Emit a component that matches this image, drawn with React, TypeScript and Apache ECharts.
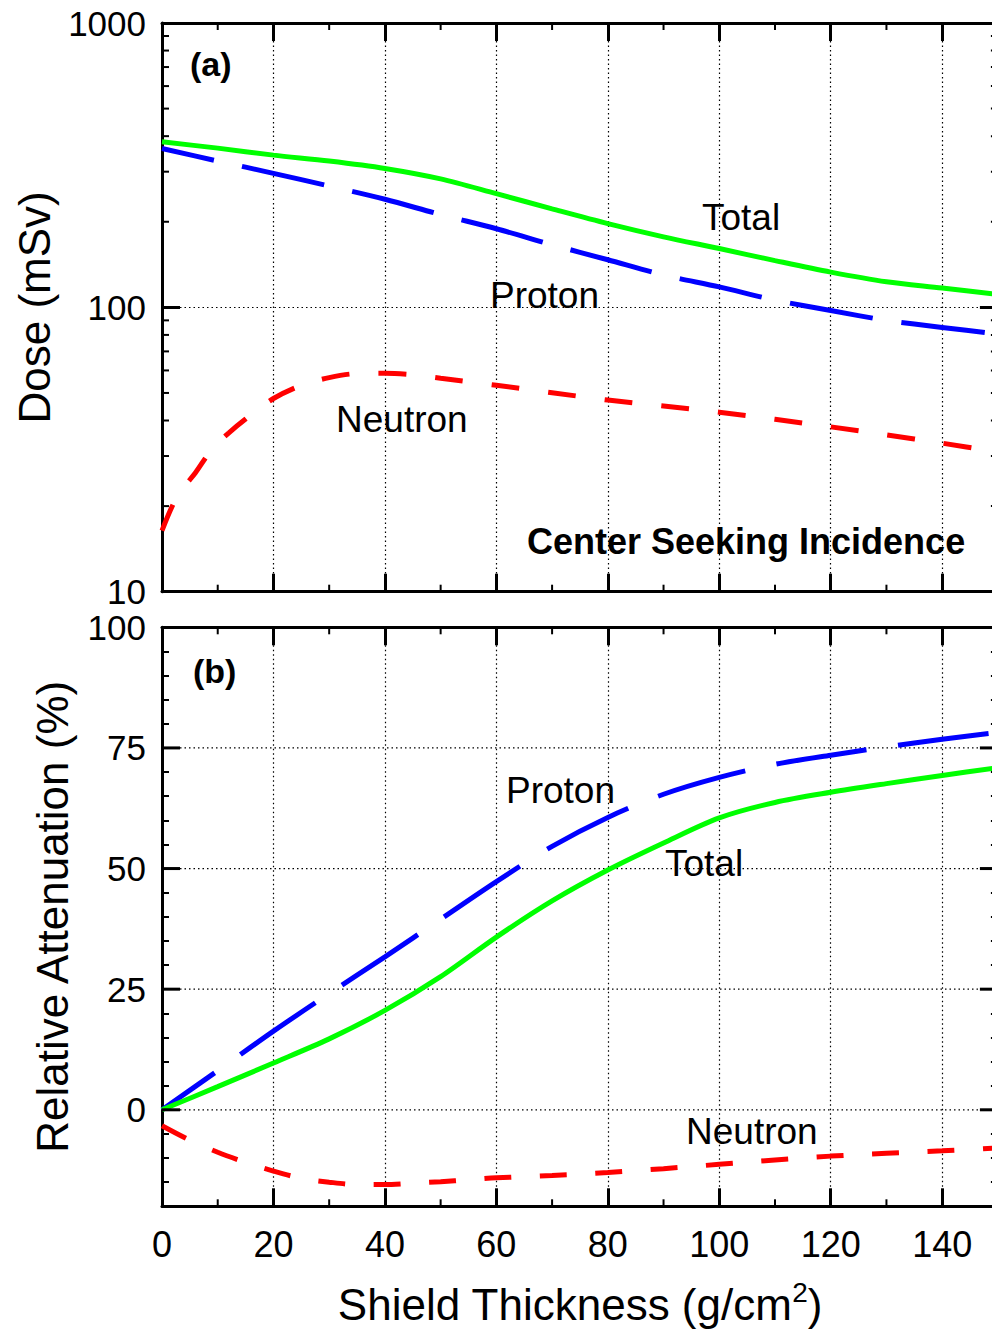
import React, { useEffect, useRef } from 'react';
import * as echarts from 'echarts';

// ---------- data ----------
// Panel (a): dose (mSv) vs shield thickness (g/cm2)
const doseX = [0, 10, 20, 30, 40, 50, 60, 70, 80, 90, 100, 110, 120, 130, 140, 150];
const doseTotal = [382, 363, 343, 327, 308, 283, 251, 222, 197, 177, 161, 146, 133, 123, 117, 111];
const doseProton = [362, 327, 296, 267, 240, 212, 189, 166, 147, 130, 118, 106, 97.5, 90, 85, 80.5];
const doseNeutronX = [0, 2, 4, 6, 9, 12, 15, 20, 25, 30, 35, 40, 45, 50, 60, 70, 80, 90, 100, 110, 120, 130, 140, 150];
const doseNeutron = [16.4, 20.3, 23.4, 26.2, 31.8, 36.2, 40.5, 47.8, 53.2, 56.6, 58.5, 58.6, 57.9, 56.3, 53.2, 50.1, 47.2, 45.0, 42.8, 40.4, 38.0, 35.6, 33.3, 31.0];

// Panel (b): relative attenuation (%) vs shield thickness
const attenX = [0, 10, 20, 30, 40, 50, 60, 70, 80, 90, 100, 110, 120, 130, 140, 150];
const attenTotal = [0, 4.8, 9.7, 14.7, 20.6, 27.6, 35.8, 43.3, 49.7, 55.3, 60.5, 63.7, 65.8, 67.6, 69.3, 70.9];
const attenProton = [0, 8.1, 16.3, 24.1, 31.7, 39.5, 47.3, 54.6, 60.6, 65.4, 68.9, 71.6, 73.5, 75.2, 76.8, 78.2];
const attenNeutronX = [0, 5, 10, 15, 20, 25, 30, 35, 40, 45, 50, 55, 60, 70, 80, 90, 100, 110, 120, 130, 140, 150];
const attenNeutron = [-3.3, -6.3, -8.8, -10.9, -12.7, -14.2, -15.0, -15.5, -15.5, -15.2, -14.9, -14.5, -14.1, -13.6, -13.0, -12.2, -11.3, -10.4, -9.6, -9.0, -8.5, -7.9];

// tick values
const xMinorTicks = [10, 30, 50, 70, 90, 110, 130];
const logMinorTicks = [20, 30, 40, 50, 60, 70, 80, 90, 200, 300, 400, 500, 600, 700, 800, 900];
const attenMajorTicks = [0, 25, 50, 75];

const pairs = (xs: number[], ys: number[]) => xs.map((x, i) => [x, ys[i]]);

const FONT = "'Liberation Sans', Arial, Helvetica, sans-serif";
const BLACK = '#000';

export default function App() {
  const ref = useRef<HTMLDivElement>(null);

  useEffect(() => {
    if (!ref.current) return;
    const chart = echarts.init(ref.current, undefined, { renderer: 'svg' });

    const gridWidth = 835.9; // x = 150 sits just past the right page edge

    const axisLine = { show: true, onZero: false, lineStyle: { color: BLACK, width: 3 } };
    const majorTick = { show: true, inside: true, length: 18, lineStyle: { color: BLACK, width: 3 } };
    const minorTickY = { show: true, inside: true, length: 7, lineStyle: { color: BLACK, width: 2 } };
    const dotted = { show: true, lineStyle: { color: BLACK, width: 1.2, type: [1.5, 3] } };
    const tickLabel = { color: BLACK, fontSize: 36, fontFamily: FONT };
    const yTickLabel = { color: BLACK, fontSize: 35, fontFamily: FONT, margin: 16, lineHeight: 26 };

    const xAxisBase = (grid: number, pos: string, labels: boolean, split: boolean) => ({
      gridIndex: grid,
      type: 'value',
      min: 0,
      max: 150,
      interval: 20,
      position: pos,
      axisLine,
      axisTick: majorTick,
      axisLabel: labels
        ? { ...tickLabel, margin: 20, showMaxLabel: false }
        : { show: false },
      splitLine: split ? { ...dotted, showMinLine: false, showMaxLine: false } : { show: false },
    });

    const lineSeries = (
      name: string,
      xi: number,
      yi: number,
      data: number[][],
      color: string,
      dash: number[] | 'solid',
      offset = 0
    ) => ({
      name,
      type: 'line',
      xAxisIndex: xi,
      yAxisIndex: yi,
      data,
      showSymbol: false,
      smooth: 0.3,
      z: 3,
      lineStyle: { color, width: 5, type: dash, dashOffset: offset, cap: 'butt' },
    });

    // horizontal ticks on the left and right frame
    const yTickRender = (len: number, w: number) => (params: any, api: any) => {
      const v = api.value(1);
      const cs = params.coordSys;
      const y = api.coord([0, v])[1];
      const xl = cs.x;
      const xr = cs.x + cs.width;
      return {
        type: 'group',
        children: [
          { type: 'line', shape: { x1: xl, y1: y, x2: xl + len, y2: y }, style: { stroke: BLACK, lineWidth: w } },
          { type: 'line', shape: { x1: xr - len, y1: y, x2: xr, y2: y }, style: { stroke: BLACK, lineWidth: w } },
        ],
      };
    };

    // vertical minor ticks on the bottom and top frame
    const xTickRender = (len: number, w: number) => (params: any, api: any) => {
      const cs = params.coordSys;
      const x = api.coord([api.value(0), api.value(1)])[0];
      const yt = cs.y;
      const yb = cs.y + cs.height;
      return {
        type: 'group',
        children: [
          { type: 'line', shape: { x1: x, y1: yb, x2: x, y2: yb - len }, style: { stroke: BLACK, lineWidth: w } },
          { type: 'line', shape: { x1: x, y1: yt, x2: x, y2: yt + len }, style: { stroke: BLACK, lineWidth: w } },
        ],
      };
    };

    const gridLineRender = (params: any, api: any) => {
      const cs = params.coordSys;
      const y = api.coord([0, api.value(1)])[1];
      return {
        type: 'line',
        shape: { x1: cs.x, y1: y, x2: cs.x + cs.width, y2: y },
        style: { stroke: BLACK, lineWidth: 1.2, lineDash: [1.5, 3] },
      };
    };

    const annot = (text: string, x: number, y: number, size: number, bold = false) => ({
      type: 'text',
      x,
      y,
      z: 10,
      style: {
        text,
        fill: BLACK,
        fontSize: size,
        fontFamily: FONT,
        fontWeight: bold ? 'bold' : 'normal',
        align: 'left',
        verticalAlign: 'middle',
        textAlign: 'left',
        textVerticalAlign: 'middle',
      },
    });

    chart.setOption({
      animation: false,
      backgroundColor: '#fff',
      grid: [
        { left: 162, top: 23, width: gridWidth, height: 568.7 },
        { left: 162, top: 627.3, width: gridWidth, height: 579 },
      ],
      xAxis: [
        xAxisBase(0, 'bottom', false, true),
        xAxisBase(0, 'top', false, false),
        {
          ...xAxisBase(1, 'bottom', true, true),
          name: '{a|Shield Thickness (g/cm}{s|2}{a|)}',
          nameLocation: 'middle',
          nameGap: 72,
          nameTextStyle: {
            color: BLACK,
            rich: {
              a: { fontSize: 44, lineHeight: 52, fontFamily: FONT, color: BLACK },
              s: { fontSize: 28, lineHeight: 18, verticalAlign: 'top', fontFamily: FONT, color: BLACK },
            },
          },
        },
        xAxisBase(1, 'top', false, false),
      ],
      yAxis: [
        {
          gridIndex: 0,
          type: 'log',
          logBase: 10,
          min: 10,
          max: 1000,
          position: 'left',
          axisLine,
          axisTick: majorTick,
          axisLabel: { ...yTickLabel, formatter: (v: number) => String(Math.round(v)) },
          splitLine: { ...dotted, showMinLine: false, showMaxLine: false },
          name: 'Dose (mSv)',
          nameLocation: 'middle',
          nameGap: 106,
          nameTextStyle: { color: BLACK, fontSize: 44, fontFamily: FONT },
        },
        {
          gridIndex: 0,
          type: 'log',
          logBase: 10,
          min: 10,
          max: 1000,
          position: 'right',
          axisLine: { show: true, onZero: false, lineStyle: { color: BLACK, width: 3 } },
          axisTick: majorTick,
          axisLabel: { show: false },
          splitLine: { show: false },
        },
        {
          gridIndex: 1,
          type: 'value',
          min: -20,
          max: 100,
          interval: 5,
          position: 'left',
          axisLine,
          axisTick: minorTickY,
          axisLabel: {
            ...yTickLabel,
            formatter: (v: number) => {
              const r = Math.round(v);
              return Math.abs(v - r) < 1e-6 && r % 25 === 0 ? String(r) : '';
            },
          },
          splitLine: { show: false },
          name: 'Relative Attenuation (%)',
          nameLocation: 'middle',
          nameGap: 88,
          nameTextStyle: { color: BLACK, fontSize: 44, fontFamily: FONT },
        },
        {
          gridIndex: 1,
          type: 'value',
          min: -20,
          max: 100,
          interval: 5,
          position: 'right',
          axisLine: { show: true, onZero: false, lineStyle: { color: BLACK, width: 3 } },
          axisTick: minorTickY,
          axisLabel: { show: false },
          splitLine: { show: false },
        },
      ],
      series: [
        {
          type: 'custom',
          xAxisIndex: 0,
          yAxisIndex: 0,
          z: 4,
          silent: true,
          data: logMinorTicks.map((v) => [0, v]),
          renderItem: yTickRender(7, 2),
        },
        {
          type: 'custom',
          xAxisIndex: 0,
          yAxisIndex: 0,
          z: 4,
          silent: true,
          data: xMinorTicks.map((v) => [v, 100]),
          renderItem: xTickRender(7, 2),
        },
        {
          type: 'custom',
          xAxisIndex: 2,
          yAxisIndex: 2,
          z: 4,
          silent: true,
          data: xMinorTicks.map((v) => [v, 0]),
          renderItem: xTickRender(7, 2),
        },
        {
          type: 'custom',
          xAxisIndex: 2,
          yAxisIndex: 2,
          z: 4,
          silent: true,
          data: attenMajorTicks.map((v) => [0, v]),
          renderItem: yTickRender(18, 3),
        },
        {
          type: 'custom',
          xAxisIndex: 2,
          yAxisIndex: 2,
          z: 1,
          silent: true,
          data: attenMajorTicks.map((v) => [0, v]),
          renderItem: gridLineRender,
        },
        lineSeries('Neutron', 0, 0, pairs(doseNeutronX, doseNeutron), '#ff0000', [28, 29], 0),
        lineSeries('Proton', 0, 0, pairs(doseX, doseProton), '#0000ff', [84, 29], 31),
        lineSeries('Total', 0, 0, pairs(doseX, doseTotal), '#00ff00', 'solid'),
        lineSeries('Neutron', 2, 2, pairs(attenNeutronX, attenNeutron), '#ff0000', [27, 28.5], 0),
        lineSeries('Proton', 2, 2, pairs(attenX, attenProton), '#0000ff', [91, 32], 27),
        lineSeries('Total', 2, 2, pairs(attenX, attenTotal), '#00ff00', 'solid'),
      ],
      graphic: [
        annot('(a)', 190, 64, 34, true),
        annot('Total', 702, 217, 37),
        annot('Proton', 490, 295, 37),
        annot('Neutron', 336, 419, 37),
        annot('Center Seeking Incidence', 527, 541, 36, true),
        annot('(b)', 193, 671, 34, true),
        annot('Proton', 506, 790, 37),
        annot('Total', 665, 863, 37),
        annot('Neutron', 686, 1131, 37),
      ],
    });

    return () => chart.dispose();
  }, []);

  return (
    <div
      style={{
        position: 'absolute',
        left: 0,
        top: 0,
        width: 992,
        height: 1334,
        overflow: 'hidden',
        background: '#fff',
      }}
    >
      <div ref={ref} style={{ width: 1010, height: 1334 }} />
    </div>
  );
}
